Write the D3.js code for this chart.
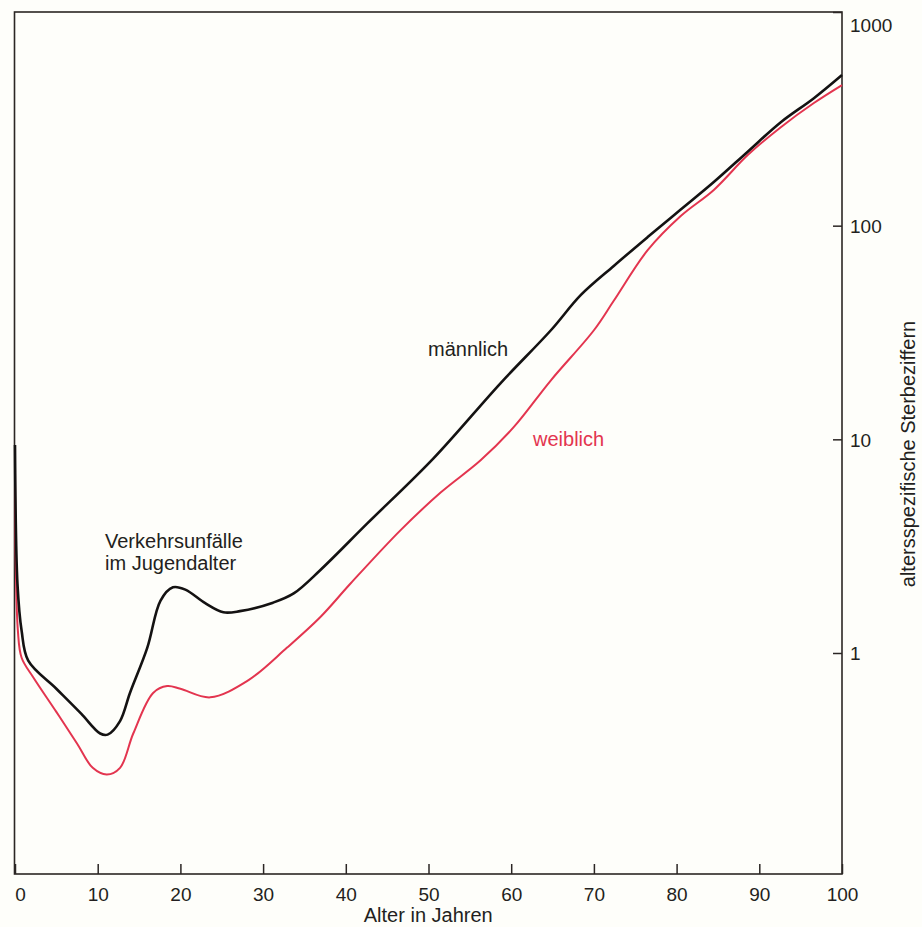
<!DOCTYPE html>
<html>
<head>
<meta charset="utf-8">
<script src="https://cdn.jsdelivr.net/npm/d3@7"></script>
<style>
  html, body { margin: 0; padding: 0; background: #fefefa; }
  svg { display: block; }
  text { font-family: "Liberation Sans", Arial, Helvetica, sans-serif; fill: #231f20; }
</style>
</head>
<body>
<svg id="chart" width="922" height="927"></svg>
<script>
// ---- data ----
const agesMale = [0, 0.3, 0.8, 1.6, 5, 8, 10.3, 11.2, 12.7, 13.9, 16, 17.6, 19.1, 20.6, 23, 25.2, 27.2, 31.2, 33.7, 36.9, 42.6, 50.6, 58.7, 64.8, 68.4, 72.4, 76.5, 80.5, 84.5, 88.6, 92.6, 96.6, 100];
const valuesMale = [9.4, 2.1, 1.27, 0.92, 0.68, 0.52, 0.42, 0.415, 0.48, 0.65, 1.06, 1.76, 2.03, 1.98, 1.71, 1.55, 1.57, 1.72, 1.90, 2.44, 4.04, 8.15, 18.3, 32.4, 47.3, 64.8, 88.4, 119, 160, 222, 305, 395, 507];

const agesFemale = [0, 0.35, 0.8, 2.2, 5, 7.5, 9.4, 11.1, 12.7, 14.3, 16.7, 18.4, 20, 23.6, 28.1, 32.9, 36.9, 40.6, 46.6, 51.5, 56.3, 60.3, 64.8, 70, 72.4, 76.5, 80.5, 84.5, 88.6, 92.6, 96.6, 100];
const valuesFemale = [7.4, 1.27, 0.95, 0.77, 0.53, 0.377, 0.29, 0.27, 0.29, 0.42, 0.65, 0.70, 0.68, 0.62, 0.74, 1.06, 1.47, 2.12, 3.75, 5.65, 7.98, 11.4, 18.9, 32.4, 44.5, 76.8, 111, 147, 214, 289, 375, 455];

const xTickValues = [0, 10, 20, 30, 40, 50, 60, 70, 80, 90, 100];
const yTickValues = [1, 10, 100, 1000];

const seriesNames = ["männlich", "weiblich"];
const annotationLines = ["Verkehrsunfälle", "im Jugendalter"];
const xTitle = "Alter in Jahren";
const yTitle = "altersspezifische Sterbeziffern";

// ---- layout ----
const plotLeft = 14.5, plotRight = 842, plotTop = 12, plotBottom = 874;
const svg = d3.select("#chart");

const x = d3.scaleLinear().domain([0, 100]).range([plotLeft + 0.5, plotRight]);
const y = d3.scaleLog().domain([0.0924, 1000]).range([plotBottom, plotTop]);

const ink = "#2b2624";
const red = "#e3354f";

// frame
svg.append("rect")
  .attr("x", plotLeft).attr("y", plotTop)
  .attr("width", plotRight - plotLeft).attr("height", plotBottom - plotTop)
  .attr("fill", "none").attr("stroke", ink).attr("stroke-width", 1.6);

// bottom axis (ticks pointing inward)
const gx = svg.append("g")
  .attr("transform", `translate(0,${plotBottom})`)
  .call(d3.axisBottom(x).tickValues(xTickValues).tickSize(-10).tickPadding(14).tickFormat(d3.format("d")));
gx.select(".domain").remove();
gx.selectAll(".tick line").attr("stroke", ink).attr("stroke-width", 1.5);
gx.selectAll(".tick text")
  .attr("font-size", 19).attr("fill", "#231f20")
  .style("font-family", '"Liberation Sans", Arial, sans-serif')
  .attr("dx", d => d === 0 ? 5 : 0);

// right axis (ticks pointing inward)
const gy = svg.append("g")
  .attr("transform", `translate(${plotRight},0)`)
  .call(d3.axisRight(y).tickValues(yTickValues).tickSize(-9).tickPadding(8).tickFormat(d3.format("d")));
gy.select(".domain").remove();
gy.selectAll(".tick line").attr("stroke", ink).attr("stroke-width", 1.5);
gy.selectAll(".tick text")
  .attr("font-size", 19).attr("fill", "#231f20")
  .style("font-family", '"Liberation Sans", Arial, sans-serif')
  .attr("dy", d => d === 1000 ? "1.0em" : "0.36em");

// axis titles
svg.append("text")
  .attr("x", (plotLeft + plotRight) / 2).attr("y", 922)
  .attr("text-anchor", "middle").attr("font-size", 20)
  .text(xTitle);

svg.append("text")
  .attr("transform", "translate(915,454) rotate(-90)")
  .attr("text-anchor", "middle").attr("font-size", 20)
  .text(yTitle);

// lines
const line = d3.line()
  .x(d => x(d[0]))
  .y(d => y(d[1]))
  .curve(d3.curveCatmullRom.alpha(0.5));

const femaleData = agesFemale.map((a, i) => [a, valuesFemale[i]]);
const maleData = agesMale.map((a, i) => [a, valuesMale[i]]);

svg.append("path")
  .datum(femaleData)
  .attr("d", line)
  .attr("fill", "none").attr("stroke", red).attr("stroke-width", 2)
  .attr("stroke-linejoin", "round");

svg.append("path")
  .datum(maleData)
  .attr("d", line)
  .attr("fill", "none").attr("stroke", "#141212").attr("stroke-width", 2.6)
  .attr("stroke-linejoin", "round");

// labels
svg.append("text")
  .attr("x", 428).attr("y", 356).attr("font-size", 20)
  .text(seriesNames[0]);

svg.append("text")
  .attr("x", 533).attr("y", 446).attr("font-size", 20)
  .style("fill", red)
  .text(seriesNames[1]);

svg.append("text")
  .attr("x", 105).attr("y", 548).attr("font-size", 20)
  .selectAll("tspan").data(annotationLines).join("tspan")
  .attr("x", 105).attr("dy", (d, i) => i === 0 ? 0 : 22)
  .text(d => d);
</script>
</body>
</html>
